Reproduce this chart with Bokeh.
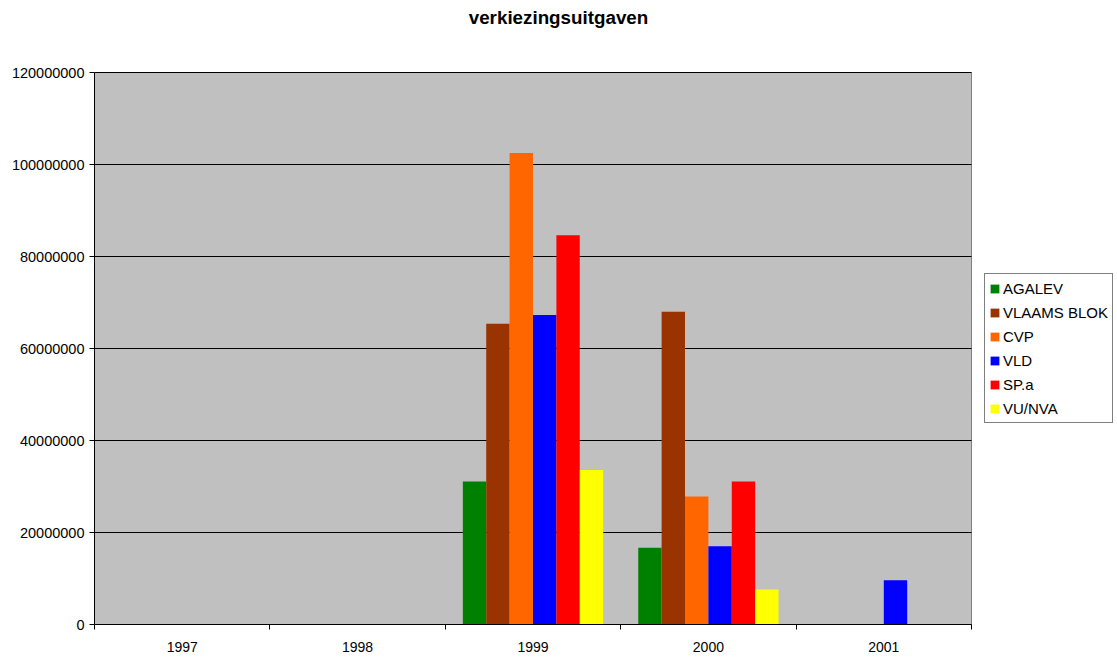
import numpy as np
from bokeh.plotting import figure
from bokeh.models import (ColumnDataSource, Legend, LegendItem, FixedTicker,
                          NumeralTickFormatter, Range1d, Label)
from bokeh.embed import file_html
from bokeh.resources import INLINE

title_text = "verkiezingsuitgaven"
years = ["1997", "1998", "1999", "2000", "2001"]
parties = ["AGALEV", "VLAAMS BLOK", "CVP", "VLD", "SP.a", "VU/NVA"]
colors = ["#008000", "#993300", "#FF6600", "#0000FF", "#FF0000", "#FFFF00"]
y_ticks = [0, 20000000, 40000000, 60000000, 80000000, 100000000, 120000000]

agalev = [0, 0, 31100000, 16700000, 0]
vlaams_blok = [0, 0, 65400000, 68000000, 0]
cvp = [0, 0, 102500000, 27800000, 0]
vld = [0, 0, 67300000, 17000000, 9600000]
spa = [0, 0, 84600000, 31100000, 0]
vu_nva = [0, 0, 33600000, 7600000, 0]
series = [agalev, vlaams_blok, cvp, vld, spa, vu_nva]

FONT = "Liberation Sans"

# layout (pixels)
W, H = 1117, 660
LEFT, BOTTOM = 94, 36
PLOT_W, PLOT_H = 877, 552          # grey plot area
FRAME_W, FRAME_H = W - LEFT, H - BOTTOM

ymax = y_ticks[-1]
nx = len(years)

p = figure(width=W, height=H, output_backend="svg", toolbar_location=None,
           x_range=Range1d(0, nx * FRAME_W / PLOT_W),
           y_range=Range1d(0, ymax * FRAME_H / PLOT_H),
           min_border_left=LEFT, min_border_right=0, min_border_top=0,
           min_border_bottom=BOTTOM)
p.outline_line_color = None
p.background_fill_color = "#FFFFFF"
p.border_fill_color = "#FFFFFF"
p.xgrid.grid_line_color = None
p.ygrid.grid_line_color = None

# grey plot area
p.quad(left=[0], right=[nx], bottom=[0], top=[ymax], fill_color="#C0C0C0",
       line_color="#808080", line_width=1)
# horizontal gridlines at the y ticks
p.segment(x0=[0] * len(y_ticks), x1=[nx] * len(y_ticks), y0=y_ticks,
          y1=y_ticks, line_color="#000000", line_width=1)

n = len(parties)
w = (6 / 7.5) / n
idx = np.arange(nx) + 0.5
items = []
for i, (name, vals, col) in enumerate(zip(parties, series, colors)):
    xs = idx + (i - (n - 1) / 2) * w
    src = ColumnDataSource(dict(x=xs, top=vals))
    r = p.vbar(x="x", top="top", width=w, source=src, fill_color=col,
               line_color=None)
    items.append(LegendItem(label=name, renderers=[r]))

legend = Legend(items=items, location=(890, 201), border_line_color="#000000",
                border_line_width=1, label_text_font=FONT,
                label_text_font_size="15px", label_text_color="#000000",
                glyph_width=11, glyph_height=11, label_height=20, spacing=4,
                padding=4, margin=0, label_standoff=3,
                background_fill_color="#FFFFFF", background_fill_alpha=1.0)
p.add_layout(legend, "center")

p.add_layout(Label(x=464, y=FRAME_H - 17, x_units="screen", y_units="screen",
                   text=title_text, text_font=FONT, text_font_size="18.8px",
                   text_font_style="bold", text_color="#000000",
                   text_align="center", text_baseline="middle"))

# x axis
p.xaxis.bounds = (0, nx)
p.xaxis.ticker = FixedTicker(ticks=list(idx), minor_ticks=list(range(nx + 1)))
p.xaxis.major_label_overrides = {float(v): y for v, y in zip(idx, years)}
p.xaxis.major_tick_line_color = None
p.xaxis.minor_tick_out = 5
p.xaxis.minor_tick_in = 0
p.xaxis.minor_tick_line_color = "#000000"
p.xaxis.axis_line_color = "#000000"
p.xaxis.major_label_standoff = 11
p.xaxis.major_label_text_font = FONT
p.xaxis.major_label_text_font_size = "14px"
p.xaxis.major_label_text_color = "#000000"

# y axis
p.yaxis.bounds = (0, ymax)
p.yaxis.ticker = FixedTicker(ticks=y_ticks)
p.yaxis.formatter = NumeralTickFormatter(format="0")
p.yaxis.minor_tick_line_color = None
p.yaxis.major_tick_out = 5
p.yaxis.major_tick_in = 0
p.yaxis.major_tick_line_color = "#000000"
p.yaxis.axis_line_color = "#000000"
p.yaxis.major_label_standoff = 5
p.yaxis.major_label_text_font = FONT
p.yaxis.major_label_text_font_size = "14.5px"
p.yaxis.major_label_text_color = "#000000"

open("out.html", "w").write(file_html(p, INLINE))
